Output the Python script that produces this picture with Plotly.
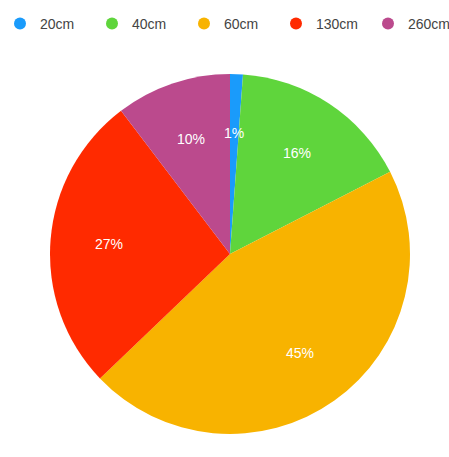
import math
import plotly.graph_objects as go

# Share of each size class
sizes = ["20cm", "40cm", "60cm", "130cm", "260cm"]
shares = [1.15, 16.3, 45.4, 26.8, 10.35]
colors = ["#1a9bfb", "#5fd53c", "#f8b300", "#ff2a00", "#bb4a8d"]

W, H = 449, 457
cx_px, cy_px, r_px = 230, 254, 180

fig = go.Figure()

fig.add_trace(go.Pie(
    labels=sizes,
    values=shares,
    sort=False,
    direction="clockwise",
    rotation=0,
    marker=dict(colors=colors, line=dict(width=0)),
    textinfo="none",
    hoverinfo="label+percent",
    showlegend=False,
    domain=dict(
        x=[(cx_px - r_px) / W, (cx_px + r_px) / W],
        y=[(H - cy_px - r_px) / H, (H - cy_px + r_px) / H],
    ),
))

# Circular legend swatches; the last entry sits in its own legend box so the
# row does not wrap at the right edge
for i, (name, col) in enumerate(zip(sizes, colors)):
    fig.add_trace(go.Scatter(
        x=[None], y=[None], mode="markers", name=name,
        marker=dict(symbol="circle", size=12, color=col),
        showlegend=True,
        legend="legend2" if i == len(sizes) - 1 else "legend",
    ))

# Percentage labels placed along each slice's mid-angle
total = sum(shares)
cum = 0.0
for v in shares:
    mid = (cum + v / 2) / total * 2 * math.pi
    cum += v
    lx = cx_px + 0.675 * r_px * math.sin(mid)
    ly = cy_px - 0.675 * r_px * math.cos(mid)
    fig.add_annotation(
        x=lx / W, y=1 - ly / H, xref="paper", yref="paper",
        xanchor="center", yanchor="middle",
        text=f"{round(v / total * 100)}%", showarrow=False,
        font=dict(color="white", size=14, family="Liberation Sans, Arial"),
    )

legend_common = dict(
    orientation="h", xref="container", yref="container",
    y=1 - 8 / H, xanchor="left", yanchor="top",
    itemsizing="trace", traceorder="normal",
    bgcolor="rgba(0,0,0,0)",
    font=dict(size=14, color="#444444", family="Liberation Sans, Arial"),
)

fig.update_layout(
    width=W, height=H,
    margin=dict(l=0, r=0, t=0, b=0, autoexpand=False),
    paper_bgcolor="white", plot_bgcolor="white",
    xaxis=dict(visible=False), yaxis=dict(visible=False),
    font=dict(family="Liberation Sans, Arial", size=14, color="#444444"),
    legend=dict(x=-12 / W, entrywidth=47, entrywidthmode="pixels", **legend_common),
    legend2=dict(x=368 / W, **legend_common),
)

fig.write_html("out.html")
